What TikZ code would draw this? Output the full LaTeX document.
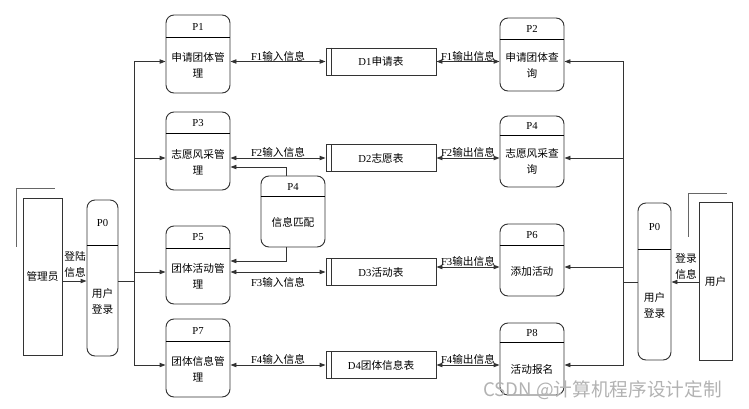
\documentclass[tikz,border=0pt]{standalone}
\usepackage{fontspec}
\setmainfont{Liberation Serif}
\newfontfamily\cjk{Noto Sans CJK SC}
\usepackage{tikz}
\usetikzlibrary{arrows.meta}
\newcommand{\pxu}{0.75pt}

\begin{document}
\begin{tikzpicture}[x=0.75pt, y=-0.75pt,
                    >={Stealth[inset=0pt,length=4.5pt,angle'=40]},
                    every node/.style={font=\fontsize{8}{12}\selectfont, inner sep=0pt},
                    zh/.style={font=\fontsize{8}{12}\selectfont\cjk, align=center},
                    proc/.style={draw=black!80, line width=0.7pt, rounded corners=6pt, minimum width=64*\pxu},
                    store/.style={draw=black!80, line width=0.7pt, minimum width=110*\pxu, minimum height=27*\pxu},
                    entity/.style={draw=black!80, line width=0.7pt, zh},
                    eline/.style={draw=black!60, line width=1.1pt},
                    hline/.style={line width=1.3pt, black},
                    flow/.style={draw=black!80, line width=0.7pt}]
                    \useasboundingbox (0,0) rectangle (749,408);

                    % external entities
                    \node[entity, minimum width=39*\pxu, minimum height=157*\pxu] (adm) at (42.5,276.5) {管理员};
                    \draw[eline] (adm.north west) ++(-6,49) -- ++(0,-58) -- ++(38,0);
                    \node[entity, minimum width=33*\pxu, minimum height=158*\pxu] (usr) at (715.5,281) {用户};
                    \draw[eline] (usr.north west) ++(-10,35) -- ++(0,-43) -- ++(38,0);

                    % login processes
                    \node[proc, minimum width=31*\pxu, minimum height=156*\pxu] (lp0) at (102.5,278) {};
                    \draw[hline] ([yshift=-46*\pxu]lp0.north west) -- ([yshift=-46*\pxu]lp0.north east);
                    \node (lp0t) at (102.5,223) {P0};
                    \node[zh] (lp0b) at (102.5,301) {用户\\登录};
                    \node[proc, minimum width=33*\pxu, minimum height=157*\pxu] (rp0) at (654.5,281.5) {};
                    \draw[hline] ([yshift=-47*\pxu]rp0.north west) -- ([yshift=-47*\pxu]rp0.north east);
                    \node (rp0t) at (654.5,226.5) {P0};
                    \node[zh] (rp0b) at (654.5,305) {用户\\登录};

                    % left column
                    \node[proc, minimum height=78*\pxu] (p1) at (198,54) {};
                    \draw[hline] ([yshift=-23*\pxu]p1.north west) -- ([yshift=-23*\pxu]p1.north east);
                    \node (p1t) at (198,26.5) {P1};
                    \node[zh] (p1b) at (198,65.5) {申请团体管\\理};

                    \node[proc, minimum height=78*\pxu] (p3) at (198,151) {};
                    \draw[hline] ([yshift=-22*\pxu]p3.north west) -- ([yshift=-22*\pxu]p3.north east);
                    \node (p3t) at (198,123) {P3};
                    \node[zh] (p3b) at (198,162) {志愿风采管\\理};

                    \node[proc, minimum height=78*\pxu] (p5) at (198,265) {};
                    \draw[hline] ([yshift=-23*\pxu]p5.north west) -- ([yshift=-23*\pxu]p5.north east);
                    \node (p5t) at (198,237.5) {P5};
                    \node[zh] (p5b) at (198,276.5) {团体活动管\\理};

                    \node[proc, minimum height=78*\pxu] (p7) at (198,358) {};
                    \draw[hline] ([yshift=-23*\pxu]p7.north west) -- ([yshift=-23*\pxu]p7.north east);
                    \node (p7t) at (198,330.5) {P7};
                    \node[zh] (p7b) at (198,369.5) {团体信息管\\理};

                    % matching process
                    \node[proc, minimum height=71*\pxu] (pm) at (293,211.5) {};
                    \draw[hline] ([yshift=-21*\pxu]pm.north west) -- ([yshift=-21*\pxu]pm.north east);
                    \node (pmt) at (293,186.5) {P4};
                    \node[zh] (pmb) at (293,222) {信息匹配};

                    % right column
                    \node[proc, minimum height=73*\pxu] (p2) at (532,54.5) {};
                    \draw[hline] ([yshift=-22*\pxu]p2.north west) -- ([yshift=-22*\pxu]p2.north east);
                    \node (p2t) at (532,29) {P2};
                    \node[zh] (p2b) at (532,65.5) {申请团体查\\询};

                    \node[proc, minimum height=71*\pxu] (p4) at (532,151.5) {};
                    \draw[hline] ([yshift=-20*\pxu]p4.north west) -- ([yshift=-20*\pxu]p4.north east);
                    \node (p4t) at (532,126) {P4};
                    \node[zh] (p4b) at (532,161.5) {志愿风采查\\询};

                    \node[proc, minimum height=72*\pxu] (p6) at (532,260) {};
                    \draw[hline] ([yshift=-22*\pxu]p6.north west) -- ([yshift=-22*\pxu]p6.north east);
                    \node (p6t) at (532,235) {P6};
                    \node[zh] (p6b) at (532,271) {添加活动};

                    \node[proc, minimum height=72*\pxu] (p8) at (532,359) {};
                    \draw[hline] ([yshift=-20*\pxu]p8.north west) -- ([yshift=-20*\pxu]p8.north east);
                    \node (p8t) at (532,333) {P8};
                    \node[zh] (p8b) at (532,369) {活动报名};

                    % data stores
                    \node[store] (d1) at (381,61.5) {D1{\cjk 申请表}};
                    \node[store] (d2) at (381,158) {D2{\cjk 志愿表}};
                    \node[store] (d3) at (381,272) {D3{\cjk 活动表}};
                    \node[store] (d4) at (381,365) {D4{\cjk 团体信息表}};
                    \draw[flow, line width=1pt] ([xshift=6*\pxu]d1.north west) -- ([xshift=6*\pxu]d1.south west);
                    \draw[flow, line width=1pt] ([xshift=6*\pxu]d2.north west) -- ([xshift=6*\pxu]d2.south west);
                    \draw[flow, line width=1pt] ([xshift=6*\pxu]d3.north west) -- ([xshift=6*\pxu]d3.south west);
                    \draw[flow, line width=1pt] ([xshift=6*\pxu]d4.north west) -- ([xshift=6*\pxu]d4.south west);

                    % bus points
                    \coordinate (lb) at (134,281);
                    \coordinate (rb) at (623,282);
                    \coordinate (r6) at (0,267);
                    \coordinate (m3) at (286,167);
                    \coordinate (m5) at (286,261);

                    % login flows
                    \draw[flow,->] (adm.east |- lb) -- (lp0.west |- lb);
                    \node[zh] (admin) at (75,264) {登陆\\信息};
                    \draw[flow,->] (usr.west |- rb) -- (rp0.east |- rb);
                    \node[zh] (usrin) at (686,266) {登录\\信息};

                    \draw[flow] (lp0.east |- lb) -- (lb);
                    \draw[flow,->] (lb) |- (p1.west |- d1);
                    \draw[flow,->] (lb) |- (p3.west |- d2);
                    \draw[flow,->] (lb) |- (p5.west |- d3);
                    \draw[flow,->] (lb) |- (p7.west |- d4);

                    \draw[flow] (rp0.west |- rb) -- (rb);
                    \draw[flow,->] (rb) |- (p2.east |- d1);
                    \draw[flow,->] (rb) |- (p4.east |- d2);
                    \draw[flow,->] (rb) |- (p6.east |- r6);
                    \draw[flow,->] (rb) |- (p8.east |- d4);

                    % store flows
                    \draw[flow,<->] (p1.east |- d1) -- (d1.west) node[midway, above] {F1{\cjk 输入信息}};
                    \draw[flow,<->] (p3.east |- d2) -- (d2.west) node[midway, above] {F2{\cjk 输入信息}};
                    \draw[flow,<->] (p5.east |- d3) -- (d3.west) node[midway, below=3.5pt] {F3{\cjk 输入信息}};
                    \draw[flow,<->] (p7.east |- d4) -- (d4.west) node[midway, above] {F4{\cjk 输入信息}};
                    \draw[flow,<->] (d1.east) -- (p2.west |- d1) node[midway, above] {F1{\cjk 输出信息}};
                    \draw[flow,<->] (d2.east) -- (p4.west |- d2) node[midway, above] {F2{\cjk 输出信息}};
                    \draw[flow,<->] (d3.east |- r6) -- (p6.west |- r6) node[midway, above] {F3{\cjk 输出信息}};
                    \draw[flow,<->] (d4.east) -- (p8.west |- d4) node[midway, above] {F4{\cjk 输出信息}};

                    % matching flows
                    \draw[flow,->] (pm.north -| m3) |- (p3.east |- m3);
                    \draw[flow,->] (pm.south -| m5) |- (p5.east |- m5);

                    \node[font=\fontsize{14}{14}\selectfont\cjk, text=black!30, anchor=west] (wm) at (483,390) {CSDN @计算机程序设计定制};
                \end{tikzpicture}
\end{document}
